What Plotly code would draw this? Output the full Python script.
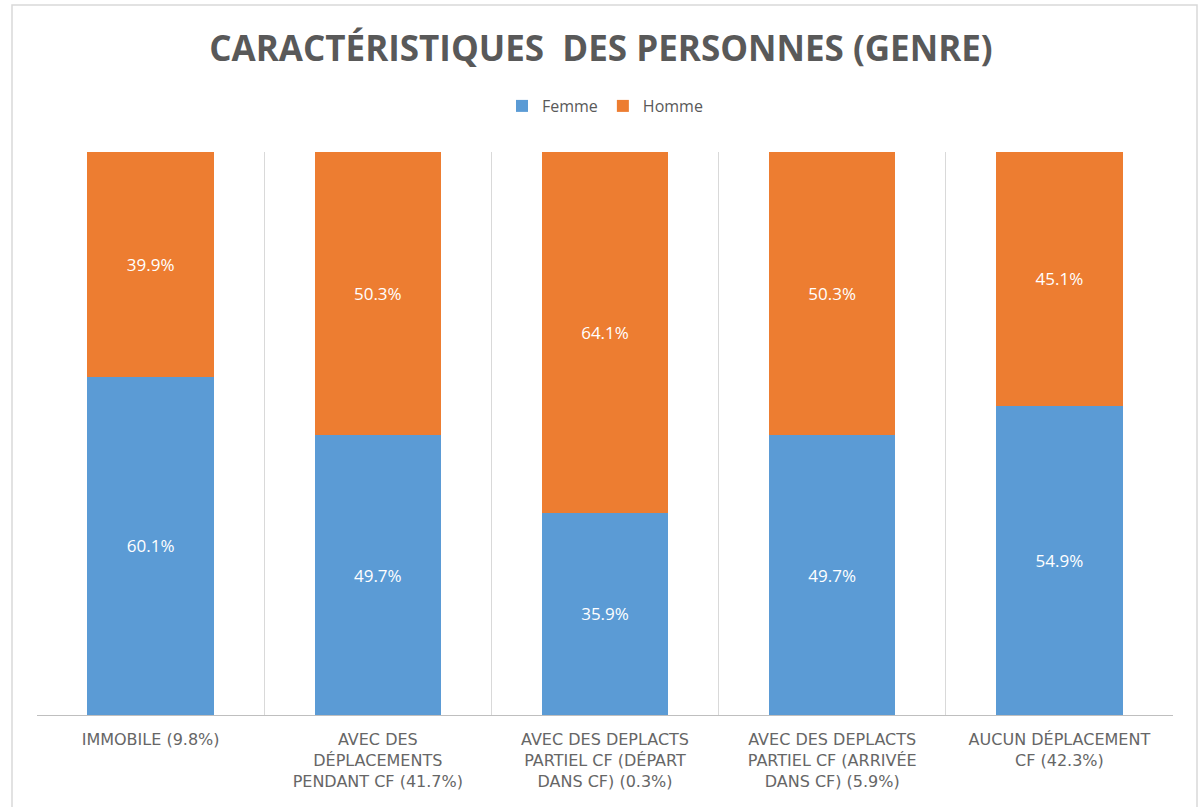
import plotly.graph_objects as go

categories = [
    "IMMOBILE (9.8%)",
    "AVEC DES<br>DÉPLACEMENTS<br>PENDANT CF (41.7%)",
    "AVEC DES DEPLACTS<br>PARTIEL CF (DÉPART<br>DANS CF) (0.3%)",
    "AVEC DES DEPLACTS<br>PARTIEL CF (ARRIVÉE<br>DANS CF) (5.9%)",
    "AUCUN DÉPLACEMENT<br>CF (42.3%)",
]
femme = [60.1, 49.7, 35.9, 49.7, 54.9]
homme = [39.9, 50.3, 64.1, 50.3, 45.1]

BLUE = "#5B9BD5"
ORANGE = "#ED7D31"
GRAY = "#595959"

fig = go.Figure()
fig.add_trace(go.Bar(
    x=categories, y=femme, name="Femme", marker_color=BLUE, marker_line_width=0,
    text=[f"{v:.1f}%" for v in femme], textposition="inside", insidetextanchor="middle",
    textfont=dict(color="white", size=17, family="Open Sans"),
))
fig.add_trace(go.Bar(
    x=categories, y=homme, name="Homme", marker_color=ORANGE, marker_line_width=0,
    text=[f"{v:.1f}%" for v in homme], textposition="inside", insidetextanchor="middle",
    textfont=dict(color="white", size=17, family="Open Sans"),
))

L, R, T, B = 37, 29, 152, 92
W, H = 1202, 807
pw = W - L - R
ph = H - T - B

fig.update_layout(
    barmode="stack",
    bargap=0.444,
    width=W, height=H,
    margin=dict(l=L, r=R, t=T, b=B, pad=0),
    paper_bgcolor="white", plot_bgcolor="white",
    title=dict(
        text="<b>CARACTÉRISTIQUES  DES PERSONNES (GENRE)</b>",
        x=0.5, xanchor="center", y=1 - 49 / H, yanchor="middle",
        font=dict(family="Open Sans", size=35, color=GRAY),
    ),
    legend=dict(
        orientation="h", x=0.5, xanchor="center", y=1 + (152 - 106) / ph, yanchor="middle",
        font=dict(family="Open Sans", size=16, color=GRAY),
        itemwidth=30, traceorder="normal",
    ),
    showlegend=True,
    xaxis=dict(
        type="category", tickson="boundaries", showgrid=True, gridcolor="#D9D9D9", gridwidth=1,
        showline=True, linecolor="#BFBFBF", linewidth=1, ticks="",
        tickfont=dict(family="DejaVu Sans", size=16, color="#666666"),
        ticklabelstandoff=10,
        zeroline=False,
    ),
    yaxis=dict(
        range=[0, 100], showgrid=False, showticklabels=False, zeroline=False, showline=False,
    ),
    shapes=[dict(
        type="rect", xref="paper", yref="paper",
        x0=(12 - L) / pw, x1=(1197 - L) / pw,
        y0=-(H + 5 - (T + ph)) / ph, y1=1 + (T - 5) / ph,
        line=dict(color="#D9D9D9", width=1.5), fillcolor="rgba(0,0,0,0)", layer="below",
    )],
)

fig.write_html("out.html", config={"displayModeBar": False},
               post_script="document.body.style.margin='0';")
